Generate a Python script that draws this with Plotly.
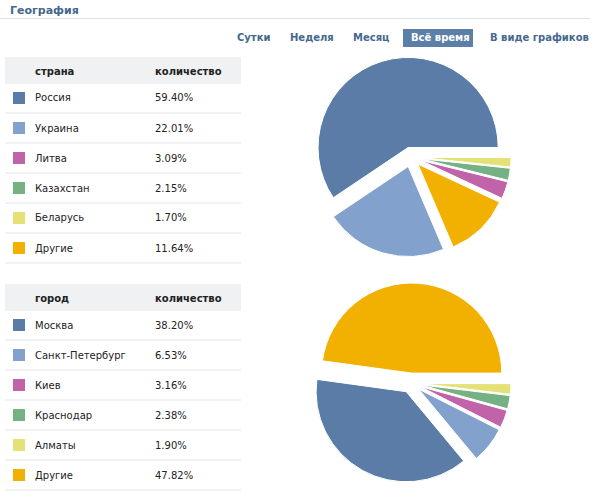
import plotly.graph_objects as go

# ---- data ----
countries = ["Россия", "Украина", "Литва", "Казахстан", "Беларусь", "Другие"]
country_pct = [59.40, 22.01, 3.09, 2.15, 1.70, 11.64]
cities = ["Москва", "Санкт-Петербург", "Киев", "Краснодар", "Алматы", "Другие"]
city_pct = [38.20, 6.53, 3.16, 2.38, 1.90, 47.82]
colors = ["#5A7CA7", "#82A2CD", "#C063A9", "#74B284", "#E4E177", "#F2B100"]
tabs = ["Сутки", "Неделя", "Месяц", "Всё время", "В виде графиков"]

W, H = 600, 500
FONT = "DejaVu Sans"


def px(x):
    return x / W


def py(y):
    return 1 - y / H


fig = go.Figure()

# pies: slices placed clockwise from 3 o'clock in ascending order
# (equivalently: descending, counterclockwise from 3 o'clock)
for labels, vals, ytop in [(countries, country_pct, 57), (cities, city_pct, 283)]:
    order = sorted(range(len(vals)), key=lambda i: vals[i])
    fig.add_trace(go.Pie(
        labels=[labels[i] for i in order], values=[vals[i] for i in order],
        marker=dict(colors=[colors[i] for i in order], line=dict(color="white", width=1)),
        sort=False, direction="clockwise", rotation=90,
        pull=[0.11] * len(vals), textinfo="none", hoverinfo="label+percent",
        domain=dict(x=[px(311), px(511)], y=[py(ytop + 200), py(ytop)]),
        showlegend=False,
    ))

shapes = []
ann = []

# title + rule
ann.append(dict(x=px(8), y=py(10), xref="paper", yref="paper", text="<b>География</b>",
                showarrow=False, xanchor="left", yanchor="middle",
                font=dict(family=FONT, size=11, color="#45688E")))
shapes.append(dict(type="line", xref="paper", yref="paper", x0=px(0), x1=px(590),
                   y0=py(18.5), y1=py(18.5), line=dict(color="#DAE1E8", width=1)))

# tabs
tab_x = [235, 288, 351, 409, 488]
for i, t in enumerate(tabs):
    if t == "Всё время":
        shapes.append(dict(type="rect", xref="paper", yref="paper", x0=px(403), x1=px(473),
                           y0=py(47), y1=py(29), fillcolor="#5B7FA6", line=dict(width=0)))
        c = "white"
    else:
        c = "#45688E"
    ann.append(dict(x=px(tab_x[i]), y=py(38), xref="paper", yref="paper", text="<b>%s</b>" % t,
                    showarrow=False, xanchor="left", yanchor="middle",
                    font=dict(family=FONT, size=10, color=c)))

# tables
for head, labels, vals, ytop in [("страна", countries, country_pct, 57),
                                 ("город", cities, city_pct, 284)]:
    shapes.append(dict(type="rect", xref="paper", yref="paper", x0=px(5), x1=px(241),
                       y0=py(ytop + 27), y1=py(ytop), fillcolor="#F0F1F3", line=dict(width=0)))
    for txt, xx in [(head, 33), ("количество", 153)]:
        ann.append(dict(x=px(xx), y=py(ytop + 14), xref="paper", yref="paper",
                        text="<b>%s</b>" % txt, showarrow=False, xanchor="left", yanchor="middle",
                        font=dict(family=FONT, size=10, color="#222")))
    for i, (lab, v) in enumerate(zip(labels, vals)):
        cy = ytop + 41 + 30 * i
        shapes.append(dict(type="rect", xref="paper", yref="paper", x0=px(13), x1=px(25),
                           y0=py(cy + 6), y1=py(cy - 6), fillcolor=colors[i], line=dict(width=0)))
        ann.append(dict(x=px(33), y=py(cy), xref="paper", yref="paper", text=lab,
                        showarrow=False, xanchor="left", yanchor="middle",
                        font=dict(family=FONT, size=10, color="#222")))
        ann.append(dict(x=px(153), y=py(cy), xref="paper", yref="paper", text="%.2f%%" % v,
                        showarrow=False, xanchor="left", yanchor="middle",
                        font=dict(family=FONT, size=10, color="#222")))
        shapes.append(dict(type="line", xref="paper", yref="paper", x0=px(5), x1=px(241),
                           y0=py(cy + 15), y1=py(cy + 15), line=dict(color="#E4E6EA", width=1)))

fig.update_layout(width=W, height=H, margin=dict(l=0, r=0, t=0, b=0),
                  paper_bgcolor="white", plot_bgcolor="white",
                  shapes=shapes, annotations=ann, showlegend=False)
fig.write_html("out.html", config={"displayModeBar": False},
               post_script="document.body.style.margin='0';")
